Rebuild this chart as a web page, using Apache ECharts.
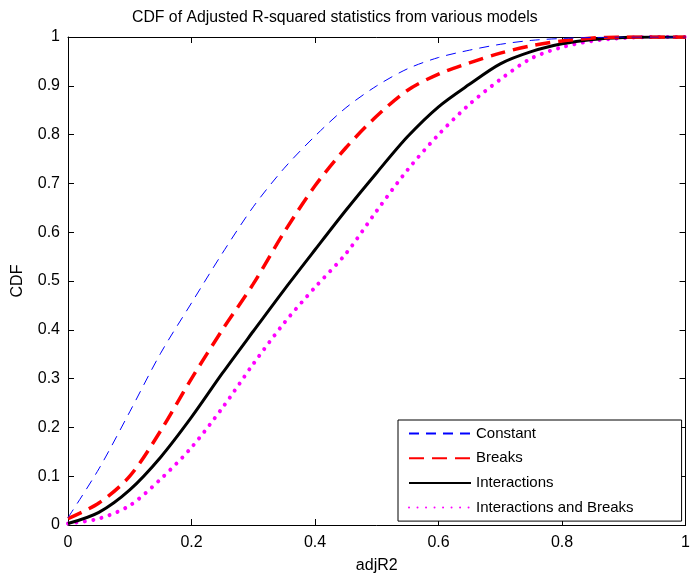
<!DOCTYPE html>
<html>
<head>
<meta charset="utf-8">
<script src="https://cdn.jsdelivr.net/npm/echarts@6/dist/echarts.min.js"></script>
<style>
html,body{margin:0;padding:0;background:#fff;}
#chart{width:693px;height:579px;}
</style>
</head>
<body>
<div id="chart"></div>
<script>
// adjR2 grid (x) and CDF values
var xs = [0, 0.05, 0.1, 0.15, 0.2, 0.25, 0.3, 0.35, 0.4, 0.45, 0.5,
          0.55, 0.6, 0.65, 0.7, 0.75, 0.8, 0.85, 0.9, 0.95, 1];
var constant = [0.015, 0.115, 0.232, 0.352, 0.455, 0.557, 0.652, 0.731, 0.797, 0.855, 0.9,
                0.935, 0.958, 0.973, 0.985, 0.993, 0.997, 0.999, 1, 1, 1];
var breaks = [0.013, 0.045, 0.1, 0.193, 0.3, 0.4, 0.494, 0.6, 0.695, 0.773, 0.838,
              0.891, 0.924, 0.947, 0.967, 0.982, 0.992, 0.998, 1, 1, 1];
var interactions = [0.003, 0.026, 0.072, 0.139, 0.221, 0.311, 0.397, 0.482, 0.564, 0.645, 0.722,
                    0.796, 0.857, 0.903, 0.945, 0.97, 0.986, 0.995, 0.999, 1, 1];
var interBreaks = [0.003, 0.013, 0.04, 0.094, 0.159, 0.24, 0.33, 0.414, 0.487, 0.556, 0.644,
                   0.728, 0.8, 0.862, 0.913, 0.956, 0.979, 0.992, 0.998, 1, 1];
var names = ['Constant', 'Breaks', 'Interactions', 'Interactions and Breaks'];

function pairs(ys){
    var out = [];
    for (var i = 0; i < xs.length; i++) out.push([xs[i], ys[i]]);
    return out;
}

var font = 'Liberation Sans, Arial, sans-serif';
var chart = echarts.init(document.getElementById('chart'));

var boxAxis = {
    type: 'value', min: 0, max: 1,
    axisLine: {show: true, onZero: false, lineStyle: {color: '#000', width: 1}},
    axisTick: {show: true, inside: true, length: 6, lineStyle: {color: '#000'}},
    splitLine: {show: false}
};

chart.setOption({
    animation: false,
    backgroundColor: '#fff',
    title: {
        text: 'CDF of Adjusted R-squared statistics from various models',
        left: 127, top: 5,
        textStyle: {fontFamily: font, fontSize: 15.8, fontWeight: 'normal', color: '#000'}
    },
    grid: {left: 68, right: 5, top: 37, bottom: 51},
    legend: {
        data: names,
        orient: 'vertical',
        left: 398, top: 420,
        backgroundColor: '#fff',
        borderColor: '#000', borderWidth: 1, borderRadius: 0,
        padding: [6, 48, 6, 10],
        itemWidth: 62, itemHeight: 14, itemGap: 9.7,
        itemStyle: {opacity: 0},
        textStyle: {fontFamily: font, fontSize: 15, color: '#000'}
    },
    xAxis: [
        Object.assign({}, boxAxis, {
            position: 'bottom', interval: 0.2,
            name: 'adjR2', nameLocation: 'middle', nameGap: 33,
            nameTextStyle: {fontFamily: font, fontSize: 16, color: '#000'},
            axisLabel: {fontFamily: font, fontSize: 16, color: '#000', margin: 10}
        }),
        Object.assign({}, boxAxis, {position: 'top', interval: 0.2, axisLabel: {show: false}})
    ],
    yAxis: [
        Object.assign({}, boxAxis, {
            position: 'left', interval: 0.1,
            name: 'CDF', nameLocation: 'middle', nameGap: 42,
            nameTextStyle: {fontFamily: font, fontSize: 16, color: '#000'},
            axisLabel: {fontFamily: font, fontSize: 16, color: '#000', margin: 8}
        }),
        Object.assign({}, boxAxis, {position: 'right', interval: 0.1, axisLabel: {show: false}})
    ],
    series: [
        {
            name: names[0], type: 'line', symbol: 'none', smooth: 0.3,
            data: pairs(constant),
            lineStyle: {color: '#0000ff', width: 1, type: [10, 7]},
            itemStyle: {color: '#0000ff'}, z: 4
        },
        {
            name: names[1], type: 'line', symbol: 'none', smooth: 0.3,
            data: pairs(breaks),
            lineStyle: {color: '#ff0000', width: 3.5, type: [15, 8]},
            itemStyle: {color: '#ff0000'}, z: 3
        },
        {
            name: names[2], type: 'line', symbol: 'none', smooth: 0.3,
            data: pairs(interactions),
            lineStyle: {color: '#000000', width: 3},
            itemStyle: {color: '#000000'}, z: 2
        },
        {
            name: names[3], type: 'line', symbol: 'none', smooth: 0.3,
            data: pairs(interBreaks),
            lineStyle: {color: '#ff00ff', width: 4, type: [0.01, 8.5], cap: 'round'},
            itemStyle: {color: '#ff00ff'}, z: 1
        }
    ]
});
</script>
</body>
</html>
